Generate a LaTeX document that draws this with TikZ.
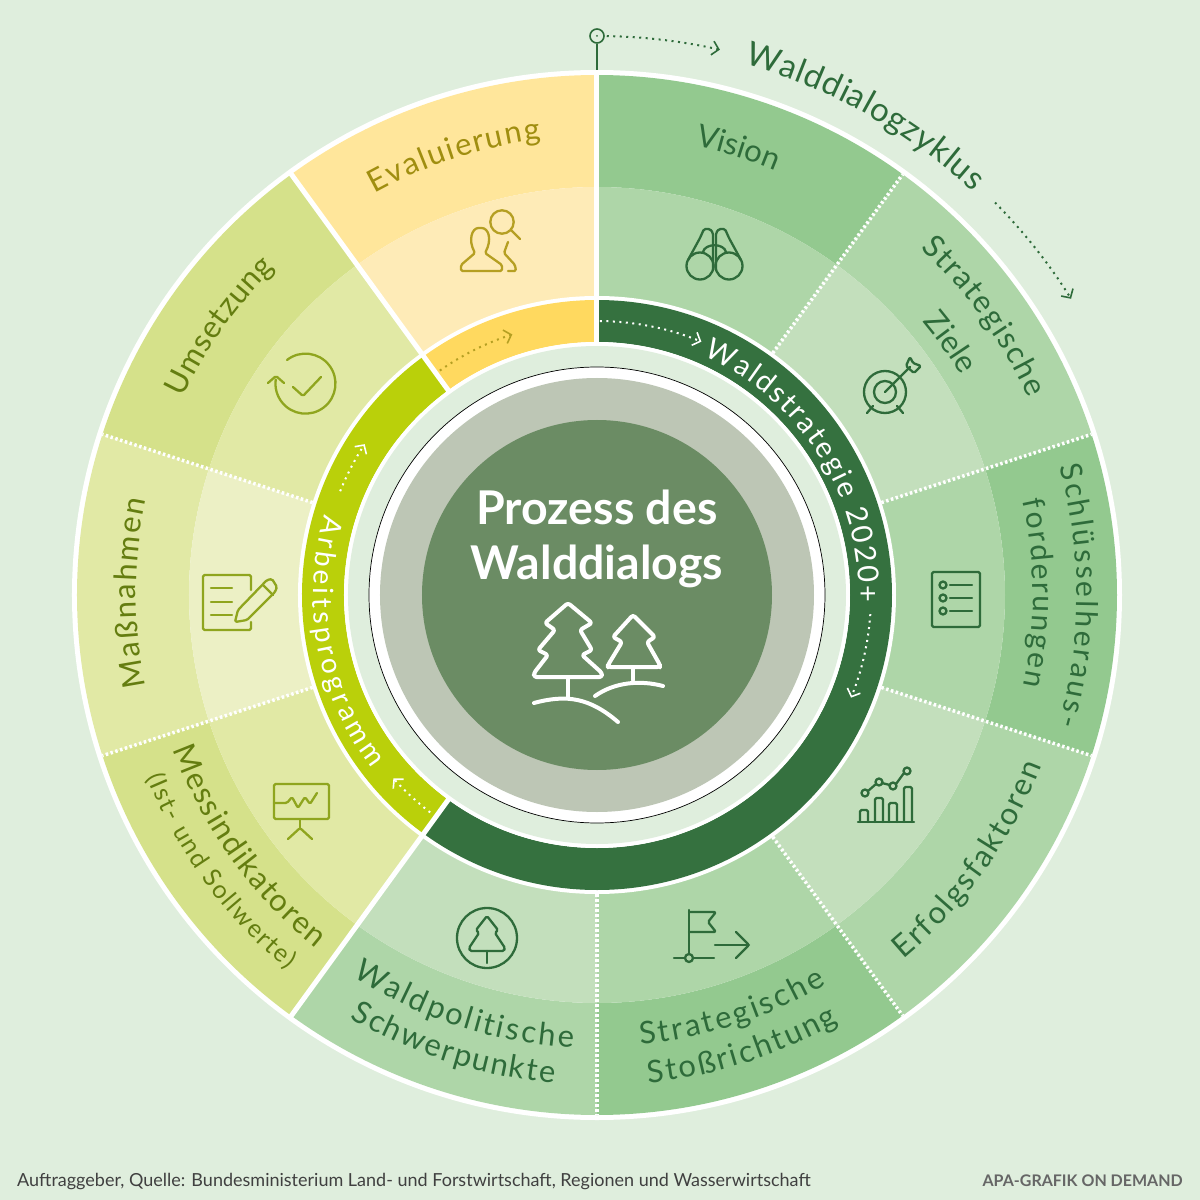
\documentclass[tikz,border=0pt]{standalone}
\usepackage{fontspec}
\setmainfont{Lato}
\usepackage{tikz}
\usetikzlibrary{arrows.meta,decorations.text}
\definecolor{page}{RGB}{223,238,221}
\definecolor{greenA}{RGB}{147,201,143}
\definecolor{greenB}{RGB}{174,214,168}
\definecolor{greenC}{RGB}{195,223,188}
\definecolor{limeA}{RGB}{213,225,138}
\definecolor{limeB}{RGB}{225,233,165}
\definecolor{limeC}{RGB}{236,240,197}
\definecolor{sunA}{RGB}{255,230,155}
\definecolor{sunB}{RGB}{254,235,183}
\definecolor{sunC}{RGB}{255,217,95}
\definecolor{forest}{RGB}{53,113,63}
\definecolor{lime}{RGB}{186,208,10}
\definecolor{stone}{RGB}{189,198,181}
\definecolor{moss}{RGB}{107,140,100}
\definecolor{txtgreen}{RGB}{46,107,58}
\definecolor{txtlime}{RGB}{100,125,16}
\definecolor{txtsun}{RGB}{160,142,16}
\definecolor{icolime}{RGB}{143,165,30}
\definecolor{icosun}{RGB}{181,159,34}
\tikzset{
  solidcut/.style={draw=white, line width=5pt},
  dotcut/.style={draw=white, line width=3.5pt, dash pattern=on 2.5pt off 2.5pt},
  flow/.style={-{Straight Barb[length=6.5pt,width=14pt,line width=1.6pt]}, line width=2pt, dash pattern=on 2pt off 4.5pt},
  ico/.style={line width=2.3pt, line cap=round, line join=round, rounded corners=1.5pt},
  tree/.style={draw=white, line width=4pt, line cap=round, line join=round, rounded corners=2.5pt}
}
% one sector of the ring, outer band and inner band
\newcommand{\sector}[4]{
  \fill[#3] (#1:520) arc[start angle=#1,end angle=#2,radius=520] -- (#2:408) arc[start angle=#2,end angle=#1,radius=408] -- cycle;
  \fill[#4] (#1:408) arc[start angle=#1,end angle=#2,radius=408] -- (#2:295) arc[start angle=#2,end angle=#1,radius=295] -- cycle;
}
\newcommand{\hoop}[3]{
  \fill[#3] (#1:295) arc[start angle=#1,end angle=#2,radius=295] -- (#2:253) arc[start angle=#2,end angle=#1,radius=253] -- cycle;
}
% text on an arc: start, end, radius, format, text
\newcommand{\arclabel}[5]{
  \path[decorate,decoration={text along path,text align={fit to path},text={|#4|#5}}] (#1:#3) arc[start angle=#1,end angle=#2,radius=#3];
}
\newcommand{\fs}[1]{\fontsize{#1}{#1}\selectfont}
\begin{document}
\begin{tikzpicture}[x=1pt,y=1pt]
\useasboundingbox (-597,-605) rectangle (603,595);
\fill[page] (-597,-605) rectangle (603,595);
\fill[white] (0,0) circle (525);
% sectors
\sector{90}{54}{greenA}{greenB}
\sector{54}{18}{greenB}{greenC}
\sector{18}{-18}{greenA}{greenB}
\sector{-18}{-54}{greenB}{greenC}
\sector{-54}{-90}{greenA}{greenB}
\sector{-90}{-126}{greenB}{greenC}
\sector{-126}{-162}{limeA}{limeB}
\sector{-162}{-198}{limeB}{limeC}
\sector{-198}{-234}{limeA}{limeB}
\sector{-234}{-270}{sunA}{sunB}
% inner ring
\fill[white] (0,0) circle (299);
\hoop{90}{-126}{forest}
\hoop{234}{126}{lime}
\hoop{126}{90}{sunC}
\fill[white] (0,0) circle (253);
\fill[page] (0,0) circle (249);
\draw[black,line width=.7pt,fill=white] (0,0) circle (228);
\fill[stone] (0,0) circle (217);
\fill[moss] (0,0) circle (175);
% dividers
\draw[dotcut] (54:299) -- (54:520);
\draw[dotcut] (18:299) -- (18:520);
\draw[dotcut] (-18:299) -- (-18:520);
\draw[dotcut] (-54:299) -- (-54:520);
\draw[dotcut] (-90:299) -- (-90:520);
\draw[dotcut] (-162:299) -- (-162:520);
\draw[dotcut] (162:299) -- (162:520);
\draw[solidcut] (90:251) -- (90:522);
\draw[solidcut] (126:251) -- (126:522);
\draw[solidcut] (-126:251) -- (-126:522);
% cycle marker
\node[circle,draw=txtgreen,line width=1.6pt,minimum size=14pt,inner sep=0pt] (start) at (0,559) {};
\fill[txtgreen] (start.center) circle (1pt);
\draw[txtgreen,line width=1.6pt] (start) -- (0,525);
\draw[flow,draw=txtgreen] (89:559) arc[start angle=89,end angle=77.3,radius=559];
\draw[flow,draw=txtgreen] (44.6:559) arc[start angle=44.6,end angle=32,radius=559];
\arclabel{74.5}{47}{551}{\fs{33}\color{txtgreen}}{Walddialogzyklus}
% arrows in the inner ring
\draw[flow,draw=white] (89.4:274) arc[start angle=89.4,end angle=67.6,radius=274];
\draw[flow,draw=white] (-4:274) arc[start angle=-4,end angle=-22,radius=274];
\draw[flow,draw=white] (232.5:274) arc[start angle=232.5,end angle=222,radius=274];
\draw[flow,draw=white] (158:277) arc[start angle=158,end angle=147,radius=277];
\draw[flow,draw=icosun] (125:274) arc[start angle=125,end angle=108,radius=274];
% ring labels
\arclabel{66}{-1.5}{262}{\fs{29}\color{white}}{Waldstrategie 2020+}
\arclabel{163.5}{217.5}{284}{\fs{28}\color{white}}{Arbeitsprogramm}
% sector labels
\arclabel{77.7}{67.2}{460}{\fs{31}\color{txtgreen}}{Vision}
\arclabel{47}{24.5}{474}{\fs{31}\color{txtgreen}}{Strategische}
\arclabel{40}{31.5}{425}{\fs{31}\color{txtgreen}}{Ziele}
\arclabel{15.5}{-15.7}{480}{\fs{30}\color{txtgreen}}{Schlüsselheraus-}
\arclabel{12.5}{-12}{436}{\fs{30}\color{txtgreen}}{forderungen}
\arclabel{310}{339}{476}{\fs{31}\color{txtgreen}}{Erfolgsfaktoren}
\arclabel{275.5}{300.5}{452}{\fs{31}\color{txtgreen}}{Strategische}
\arclabel{276}{299.5}{491}{\fs{31}\color{txtgreen}}{Stoßrichtung}
\arclabel{237.3}{267}{453}{\fs{31}\color{txtgreen}}{Waldpolitische}
\arclabel{239.7}{265}{490}{\fs{31}\color{txtgreen}}{Schwerpunkte}
\arclabel{200}{231.5}{451}{\fs{31}\color{txtlime}}{Messindikatoren}
\arclabel{202}{230.5}{486}{\fs{25}\color{txtlime}}{(Ist- und Sollwerte)}
\arclabel{191.5}{168}{461}{\fs{31}\color{txtlime}}{Maßnahmen}
\arclabel{154.5}{134.5}{459}{\fs{31}\color{txtlime}}{Umsetzung}
\arclabel{119}{97}{459}{\fs{31}\color{txtsun}}{Evaluierung}
% centre
\node[text=white,font=\bfseries\fontsize{46.5}{55}\selectfont,align=center] (title) at (0,56) {Prozess des\\Walddialogs};
% footer
\node[anchor=base west,inner sep=0pt,text=black!75,font=\fontsize{18}{20}\selectfont] (source) at (-580,-591) {Auftraggeber, Quelle: Bundesministerium Land- und Forstwirtschaft, Regionen und Wasserwirtschaft};
\node[anchor=base east,inner sep=0pt,text=black!60,font=\bfseries\fontsize{16}{20}\selectfont] (credit) at (586,-591) {APA-GRAFIK ON DEMAND};
% icons, written in page pixels
\begin{scope}[shift={(-597,595)},yscale=-1]
% trees
\draw[tree] (568,603) -- (545,623) -- (555,630) -- (538,650) -- (548,655) -- (534,673) -- (534,677) -- (602,677) -- (602,673) -- (582,655) -- (592,650) -- (580,630) -- (592,623) -- cycle;
\draw[tree] (568,677) -- (568,698);
\draw[tree] (534,703) .. controls (567,694) and (590,698) .. (618,722);
\draw[tree] (633,615) -- (613,637) -- (622,642) -- (608,665) -- (608,667) -- (660,667) -- (660,665) -- (647,642) -- (655,637) -- cycle;
\draw[tree] (633,667) -- (633,680);
\draw[tree] (595,696) .. controls (615,682) and (640,680) .. (663,686);
% binoculars
\begin{scope}[draw=txtgreen]
\draw[ico] (700,266) circle (13.5);
\draw[ico] (729,266) circle (13.5);
\draw[ico] (688,260) -- (700,238) -- (704,229) -- (710,229) -- (713,233) -- (713,270);
\draw[ico] (741,260) -- (729,238) -- (725,229) -- (719,229) -- (716,233) -- (716,270);
\draw[ico] (703,252) .. controls (705,243) and (724,243) .. (726,252);
% target
\draw[ico] (885,392) circle (21);
\draw[ico] (885,392) circle (11);
\draw[ico] (867,413) -- (873,406);
\draw[ico] (903,413) -- (897,406);
\draw[ico] (885,392) -- (910,367);
\draw[ico] (906,366) -- (910,357) -- (913,363) -- (921,366) -- (914,373) -- cycle;
% checklist
\draw[ico] (932,572) rectangle (980,627);
\draw[ico] (943,585) circle (3.5);
\draw[ico] (943,598) circle (3.5);
\draw[ico] (943,611) circle (3.5);
\draw[ico] (950,585) -- (972,585);
\draw[ico] (950,598) -- (972,598);
\draw[ico] (950,611) -- (972,611);
% chart
\draw[ico] (858,822) -- (914,822);
\draw[ico] (860,822) -- (860,810) -- (868,810) -- (868,822);
\draw[ico] (875,822) -- (875,798) -- (883,798) -- (883,822);
\draw[ico] (889,822) -- (889,803) -- (897,803) -- (897,822);
\draw[ico] (904,822) -- (904,787) -- (912,787) -- (912,822);
\draw[ico] (865,793) circle (3.5);
\draw[ico] (879,782) circle (3.5);
\draw[ico] (893,786) circle (3.5);
\draw[ico] (907,771) circle (3.5);
\draw[ico] (868,791) -- (876,784);
\draw[ico] (882,783) -- (890,785);
\draw[ico] (896,784) -- (904,773);
% flag
\draw[ico] (689,910) -- (689,954);
\draw[ico] (689,958) circle (4);
\draw[ico] (674,958) -- (685,958);
\draw[ico] (693,958) -- (714,958);
\draw[ico] (689,912) -- (716,912) -- (708,922) -- (716,932) -- (689,932);
\draw[ico] (715,945) -- (749,945);
\draw[ico] (736,932) -- (749,945) -- (736,958);
% forest badge
\draw[ico] (487,938) circle (30);
\draw[ico] (487,916) -- (476,930) -- (479,933) -- (469,948) -- (470,951) -- (504,951) -- (505,948) -- (495,933) -- (498,930) -- cycle;
\draw[ico] (487,951) -- (487,963);
\end{scope}
\begin{scope}[draw=icolime]
% board
\draw[ico] (274,784) rectangle (329,819);
\draw[ico] (274,803) -- (287,803) -- (292,797) -- (298,808) -- (305,797) -- (310,804) -- (317,793);
\draw[ico] (300,820) -- (300,828);
\draw[ico] (288,839) -- (300,828) -- (312,839);
% note and pencil
\draw[ico] (251,590) -- (251,575) -- (203,575) -- (203,630) -- (251,630) -- (251,622);
\draw[ico] (211,588) -- (232,588);
\draw[ico] (211,602) -- (232,602);
\draw[ico] (211,615) -- (232,615);
\draw[ico] (235,622) -- (238,610) -- (267,580) -- (272,579) -- (277,587) -- (275,592) -- (247,620) -- cycle;
\draw[ico] (263,585) -- (273,595);
% refresh and check
\draw[ico] (287,360) arc[start angle=232,end angle=548,radius=30];
\draw[ico] (268,383) -- (276,376) -- (284,383);
\draw[ico] (293,387) -- (303,396) -- (321,377);
\end{scope}
\begin{scope}[draw=icosun]
% people and lens
\draw[ico] (502,271) -- (461,271) -- (461,265) -- (475,253) .. controls (468,240) and (472,228) .. (480,228) .. controls (489,228) and (492,240) .. (485,253) -- (502,265) -- cycle;
\draw[ico] (508,242) -- (504,253) -- (515,265) -- (516,271) -- (508,271);
\draw[ico] (502,222) circle (11.7);
\draw[ico] (511,230) -- (520,239);
\end{scope}
\end{scope}
\end{tikzpicture}
\end{document}
